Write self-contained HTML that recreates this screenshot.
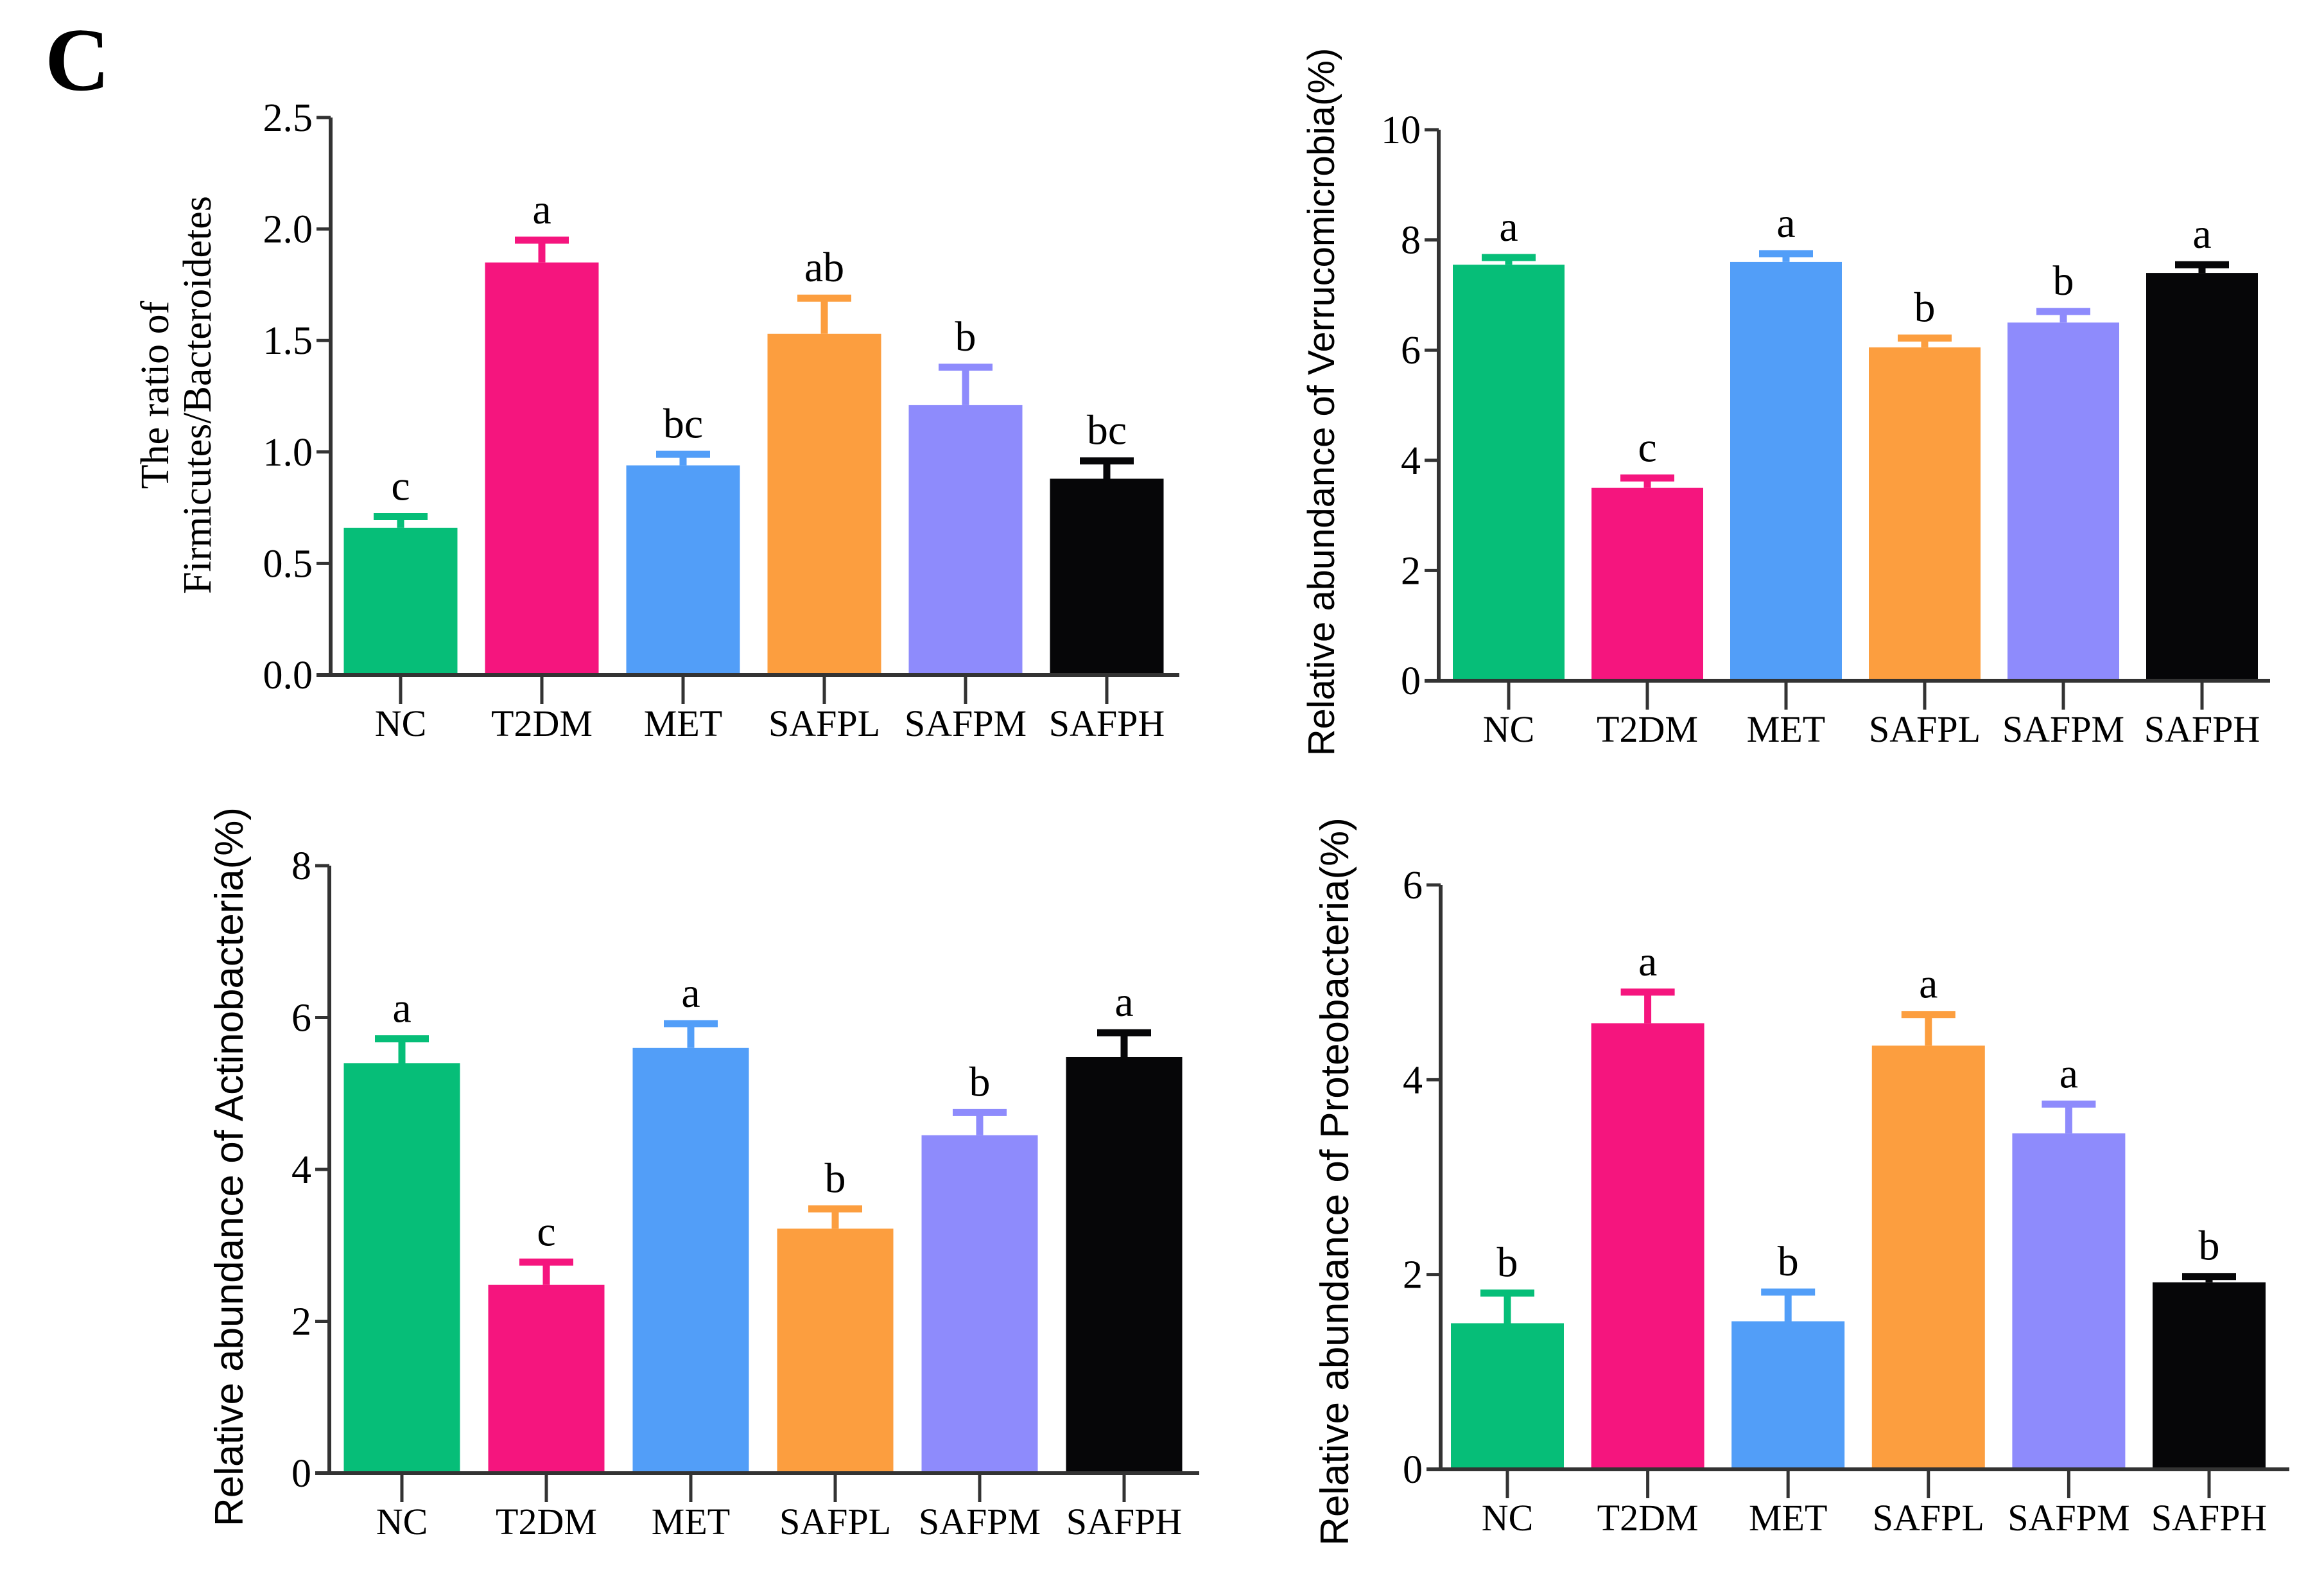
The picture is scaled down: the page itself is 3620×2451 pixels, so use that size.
<!DOCTYPE html>
<html><head><meta charset="utf-8"><style>
html,body{margin:0;padding:0;background:#fff;overflow:hidden;}
svg{display:block;}
</style></head><body>
<svg id="fig" width="3620" height="2451" viewBox="0 0 3620 2451" xmlns="http://www.w3.org/2000/svg">
<rect width="3620" height="2451" fill="#fff"/>
<text x="70" y="140" font-family="Liberation Serif, serif" font-weight="bold" font-size="140">C</text>
</svg>
<script>
const categories = ["NC","T2DM","MET","SAFPL","SAFPM","SAFPH"];
const colors = ["#06BE78","#F5157E","#529EF8","#FC9E3F","#8E8BFC","#060608"];
const fbMeans = [0.66,1.85,0.94,1.53,1.21,0.88];
const fbErrs = [0.05,0.10,0.05,0.16,0.17,0.08];
const fbLetters = ["c","a","bc","ab","b","bc"];
const fbTicks = ["0.0","0.5","1.0","1.5","2.0","2.5"];
const verMeans = [7.55,3.5,7.6,6.05,6.5,7.4];
const verErrs = [0.13,0.18,0.15,0.17,0.2,0.15];
const verLetters = ["a","c","a","b","b","a"];
const verTicks = ["0","2","4","6","8","10"];
const actMeans = [5.4,2.48,5.6,3.22,4.45,5.48];
const actErrs = [0.32,0.3,0.32,0.26,0.3,0.32];
const actLetters = ["a","c","a","b","b","a"];
const actTicks = ["0","2","4","6","8"];
const proMeans = [1.5,4.58,1.52,4.35,3.45,1.92];
const proErrs = [0.31,0.32,0.3,0.32,0.3,0.06];
const proLetters = ["b","a","b","a","a","b"];
const proTicks = ["0","2","4","6"];

const NS="http://www.w3.org/2000/svg";
const svg=document.getElementById('fig');
function mk(tag,attrs,parent){const e=document.createElementNS(NS,tag);for(const k in attrs)e.setAttribute(k,attrs[k]);(parent||svg).appendChild(e);return e;}

function panel(name,cfg,means,errs,letters,ticks,titleLines){
  const g=mk('g',{});
  
  
  const ymax=parseFloat(ticks[ticks.length-1]);
  const y=v=>cfg.y0-(v/ymax)*(cfg.y0-cfg.yTop);
  const xc=i=>cfg.c0+i*cfg.pitch;
  const bw=cfg.bw;
  means.forEach((m,i)=>{
    const b=mk('rect',{x:xc(i)-bw/2,y:y(m),width:bw,height:cfg.y0-y(m),fill:colors[i]},g);
    
    
    const top=y(m+errs[i]);
    const e=mk('path',{d:`M${xc(i)},${y(m)} V${top} M${xc(i)-42},${top} H${xc(i)+42}`,stroke:colors[i],'stroke-width':11,fill:'none'},g);
    
    
    const t=mk('text',{x:xc(i),y:top-26,'text-anchor':'middle','font-family':'Liberation Serif, serif','font-size':66},g);
    t.textContent=letters[i];
    
    
    const tk=mk('line',{x1:xc(i),x2:xc(i),y1:cfg.y0,y2:cfg.y0+45,stroke:'#333','stroke-width':5},g);
    
    
    const lb=mk('text',{x:xc(i),y:cfg.y0+95,'text-anchor':'middle','font-family':'Liberation Serif, serif','font-size':58},g);
    lb.textContent=categories[i];
    
    
  });
  ticks.forEach(t=>{
    const v=parseFloat(t);
    const tl=mk('line',{x1:cfg.ax-22,x2:cfg.ax,y1:y(v),y2:y(v),stroke:'#333','stroke-width':5},g);
    
    
    const tx=mk('text',{x:cfg.ax-28,y:y(v)+21,'text-anchor':'end','font-family':'Liberation Serif, serif','font-size':62},g);
    tx.textContent=t;
    
    
  });
  const ya=mk('line',{x1:cfg.ax,x2:cfg.ax,y1:cfg.yTop,y2:cfg.y0+3,stroke:'#333','stroke-width':6},g);
  
  
  const xa=mk('line',{x1:cfg.ax-22,x2:cfg.xEnd,y1:cfg.y0,y2:cfg.y0,stroke:'#333','stroke-width':6},g);
  
  
  titleLines.forEach((line,k)=>{
    const tx=cfg.tx+k*cfg.tdx;
    const tt=mk('text',{x:tx,y:cfg.ty,'text-anchor':'middle','font-family':cfg.tfont,'font-size':cfg.tfs,transform:`rotate(-90 ${tx} ${cfg.ty})`},g);
    tt.textContent=line;
    
    
  });
}
const SANS='Liberation Sans, sans-serif', SERIF='Liberation Serif, serif';
panel('chart-firmicutes-bacteroidetes',{ax:515,yTop:183,y0:1051,xEnd:1837,c0:624,pitch:220,bw:177,tx:262,tdx:66,ty:615,tfs:62,tfont:SERIF},fbMeans,fbErrs,fbLetters,fbTicks,["The ratio of","Firmicutes/Bacteroidetes"]);
panel('chart-verrucomicrobia',{ax:2241,yTop:202,y0:1060,xEnd:3536,c0:2350,pitch:216,bw:174,tx:2078,tdx:0,ty:626,tfs:58,tfont:SANS},verMeans,verErrs,verLetters,verTicks,["Relative abundance of Verrucomicrobia(%)"]);
panel('chart-actinobacteria',{ax:513,yTop:1348,y0:2294,xEnd:1868,c0:626,pitch:225,bw:181,tx:378,tdx:0,ty:1817,tfs:62,tfont:SANS},actMeans,actErrs,actLetters,actTicks,["Relative abundance of Actinobacteria(%)"]);
panel('chart-proteobacteria',{ax:2244,yTop:1378,y0:2288,xEnd:3566,c0:2348,pitch:218.6,bw:176,tx:2100,tdx:0,ty:1840,tfs:62,tfont:SANS},proMeans,proErrs,proLetters,proTicks,["Relative abundance of Proteobacteria(%)"]);
</script>
</body></html>
